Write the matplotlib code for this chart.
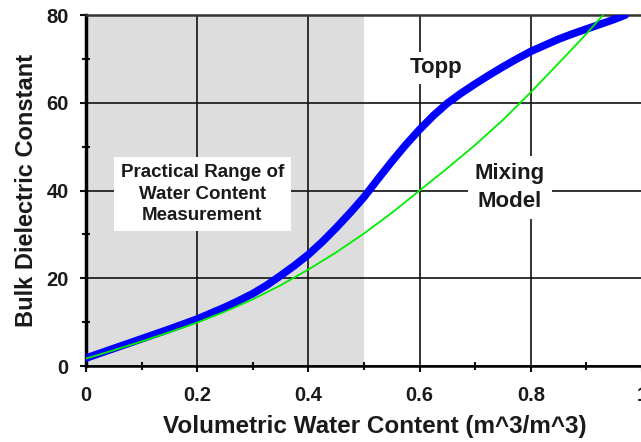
import matplotlib
matplotlib.use("Agg")
import matplotlib.pyplot as plt
from matplotlib.ticker import MultipleLocator

plt.rcParams['font.family'] = ['Liberation Sans', 'DejaVu Sans']

# Data
theta_topp = [0.0, 0.05, 0.10, 0.15, 0.20, 0.25, 0.275, 0.30, 0.325, 0.35, 0.375,
              0.40, 0.425, 0.45, 0.475, 0.50, 0.525, 0.55, 0.575, 0.60, 0.625,
              0.65, 0.675, 0.70, 0.725, 0.75, 0.775, 0.80, 0.825, 0.85, 0.875,
              0.90, 0.925, 0.95, 0.97]
k_topp = [1.8, 4.0, 6.2, 8.4, 10.7, 13.4, 14.9, 16.5, 18.4, 20.6, 22.9,
          25.4, 28.3, 31.5, 34.9, 38.5, 42.6, 46.6, 50.4, 53.9, 57.1,
          59.9, 62.2, 64.3, 66.3, 68.2, 70.0, 71.7, 73.1, 74.5, 75.7,
          76.8, 77.9, 79.0, 80.0]

theta_mix = [0.0, 0.05, 0.10, 0.15, 0.20, 0.25, 0.30, 0.35, 0.40, 0.45, 0.50,
             0.55, 0.60, 0.65, 0.70, 0.75, 0.80, 0.85, 0.90, 0.93]
k_mix = [1.7, 3.6, 5.6, 7.7, 9.9, 12.4, 15.2, 18.4, 22.0, 25.9, 30.2,
         34.9, 40.0, 45.1, 50.4, 56.1, 62.4, 69.0, 75.7, 80.0]

practical_range = [0.0, 0.5]
x_ticks = [0, 0.2, 0.4, 0.6, 0.8, 1.0]
x_tick_labels = ['0', '0.2', '0.4', '0.6', '0.8', '1']
y_ticks = [0, 20, 40, 60, 80]

W, H = 641, 442
fig = plt.figure(figsize=(W / 100, H / 100), dpi=100)
ax = fig.add_axes([86 / W, (H - 366) / H, 556 / W, 351 / H])

ax.set_xlim(0, 1)
ax.set_ylim(0, 80)

ax.axvspan(practical_range[0], practical_range[1], color='#dddddd', zorder=0, lw=0)

ax.set_xticks(x_ticks)
ax.set_xticklabels(x_tick_labels)
ax.set_yticks(y_ticks)
ax.xaxis.set_minor_locator(MultipleLocator(0.1))
ax.yaxis.set_minor_locator(MultipleLocator(10))

ax.grid(True, which='major', color='#111111', lw=1.2, zorder=1)
ax.set_axisbelow(True)

ax.tick_params(axis='both', which='major', direction='out', length=4.5, width=1.5,
               labelsize=14.5, colors='#111111')
ax.tick_params(axis='both', which='minor', direction='inout', length=6, width=1.5,
               colors='#111111')
ax.tick_params(axis='x', which='major', pad=10)
ax.tick_params(axis='y', which='major', pad=8)
for lab in ax.get_xticklabels() + ax.get_yticklabels():
    lab.set_fontweight('bold')
    lab.set_color('#1a1a1a')

ax.spines['right'].set_visible(False)
ax.spines['left'].set_linewidth(2.5)
ax.spines['bottom'].set_linewidth(1.8)
ax.spines['top'].set_linewidth(1.8)
ax.spines['top'].set_color('#333333')

ax.plot(theta_topp, k_topp, color='#0000ff', lw=5.5, solid_capstyle='round',
        solid_joinstyle='round', zorder=3)
ax.plot(theta_mix, k_mix, color='#00ee00', lw=1.3, zorder=4)

ax.set_xlabel('Volumetric Water Content (m^3/m^3)', fontsize=17.5, fontweight='bold',
              color='#1a1a1a')
ax.set_ylabel('Bulk Dielectric Constant', fontsize=17, fontweight='bold',
              color='#1a1a1a')
ax.xaxis.set_label_coords(0.52, -0.14)
ax.yaxis.set_label_coords(-0.086, 0.5)

ax.text(0.209, 39.2, 'Practical Range of\nWater Content\nMeasurement', ha='center',
        va='center', fontsize=13.5, fontweight='bold', color='#1a1a1a',
        linespacing=1.38, bbox=dict(facecolor='white', edgecolor='none', pad=5),
        zorder=5)
ax.text(0.63, 68.0, 'Topp', ha='center', va='center', fontsize=16,
        fontweight='bold', color='#1a1a1a',
        bbox=dict(facecolor='white', edgecolor='none', pad=4), zorder=5)
ax.text(0.762, 40.7, 'Mixing\nModel', ha='center', va='center', fontsize=16,
        fontweight='bold', color='#1a1a1a', linespacing=1.45,
        bbox=dict(facecolor='white', edgecolor='none', pad=5), zorder=5)

fig.savefig('out.png', dpi=100, facecolor='white')
